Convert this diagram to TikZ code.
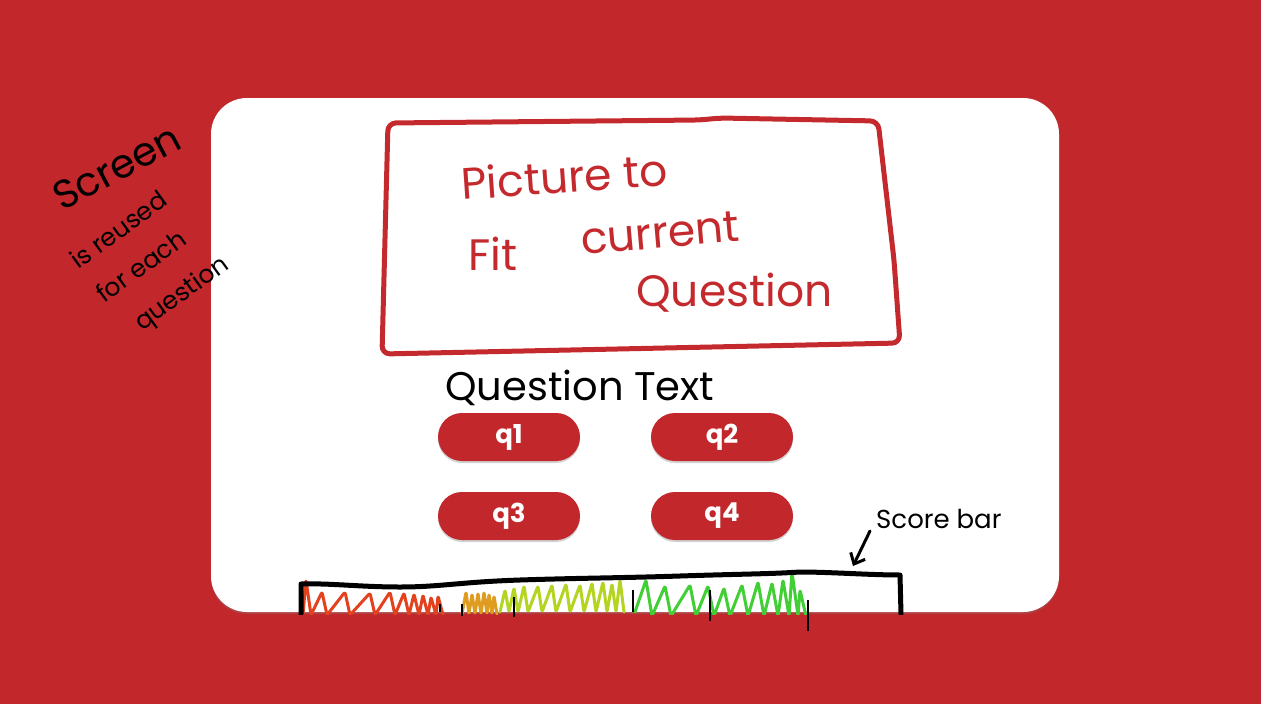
\documentclass[tikz,border=0pt]{standalone}
\usepackage{fontspec}
\setmainfont{Poppins}
\usetikzlibrary{arrows.meta,positioning,shadows}
\definecolor{bgred}{HTML}{C1272B}
\definecolor{inkred}{HTML}{C42A2D}
\definecolor{scrred}{HTML}{E2421E}
\definecolor{scrorg}{HTML}{DE9C20}
\definecolor{scrlime}{HTML}{B4D422}
\definecolor{scrgrn}{HTML}{42CF36}
\tikzset{
  redpen/.style={draw=inkred,line width=5pt,line join=round,line cap=round},
  blackpen/.style={draw=black,line width=5pt,line join=round,line cap=round},
  scrib/.style={line width=3pt,line join=round,line cap=round,rounded corners=2pt},
  tick/.style={draw=black,line width=1.3pt},
  qbtn/.style={fill=bgred,rounded corners=24pt,minimum width=142pt,minimum height=48pt,
    text=white,font=\fontsize{26}{30}\selectfont\bfseries,
    drop shadow={shadow xshift=0pt,shadow yshift=-2pt,opacity=.35}},
  boxtxt/.style={text=inkred,font=\fontsize{44}{50}\selectfont,inner sep=0pt,anchor=base west},
  note/.style={font=\fontsize{25}{28}\selectfont,inner sep=0pt,anchor=base west,rotate=36}
}
\begin{document}
\begin{tikzpicture}[x=1pt,y=-1pt]
\fill[bgred] (0,0) rectangle (1261,704);
\useasboundingbox (0,0) rectangle (1261,704);
% card
\fill[white,rounded corners=36pt,drop shadow={shadow xshift=0pt,shadow yshift=-2pt,opacity=.3}] (211,98) rectangle (1059,612);
% picture frame
\draw[redpen,rounded corners=8pt] (388,123) -- (700,120) -- (720,118) -- (878,121) -- (894,260) -- (900,343) -- (382,354) -- cycle;
\node[boxtxt,rotate=4] (pic) at (462,200) {Picture to};
\node[boxtxt] (fit) at (468,270) {Fit};
\node[boxtxt,rotate=5] (cur) at (582,255) {current};
\node[boxtxt] (qst) at (636,306) {Question};
% question text and buttons
\node[font=\fontsize{40}{46}\selectfont,inner sep=0pt,anchor=base west] (qtext) at (445,400) {Question Text};
\node[qbtn] (q1) at (509,437) {q1};
\node[qbtn] (q2) at (722,437) {q2};
\node[qbtn] (q3) at (509,516) {q3};
\node[qbtn] (q4) at (722,516) {q4};
% score bar
\begin{scope}
\clip (211,98) rectangle (1059,614);
\draw[scrib,scrred] (303,614) \foreach \x/\y in {306/580,322/592,345/592,370/593,390/592,404/593,414/594,423/595,431/597,438/596} {-- (\x,\y) -- (\x+5,615)};
\draw[scrib,scrorg] (462,614) \foreach \x/\y in {466/592,472/594,478/593,484/592,489/594,494/596} {-- (\x,\y) -- (\x+3,614)};
\draw[scrib,scrlime] (500,612) \foreach \x/\y in {505/590,514/588,524/586,538/586,552/585,566/584,580/585,592/583,603/582,612/584,620/580} {-- (\x,\y) -- (\x+4,612)};
\draw[scrib,scrgrn] (635,612) \foreach \x/\y in {646/580,665/586,690/585,708/586,724/588,742/585,758/582,772/583,783/580,792/572,800/590} {-- (\x,\y) -- (\x+6,616)};
\draw[blackpen] (301,614) -- (301,584) .. controls (330,583) and (360,587) .. (400,587) .. controls (440,587) and (460,582) .. (520,580) .. controls (580,578) and (620,578) .. (680,576) .. controls (740,574) and (770,574) .. (800,572) .. controls (830,572) and (870,575) .. (900,575) -- (901,614);
\end{scope}
\foreach \x/\a/\b in {440/604/612,462/604/616,514/597/617,633/590/612,710/590/621,808/600/631} {\draw[tick] (\x,\a) -- (\x,\b);}
\node[font=\fontsize{26}{30}\selectfont,inner sep=0pt,anchor=base west] (score) at (876,528) {Score bar};
\coordinate (arrS) at (870,531);
\coordinate (arrE) at (853,566);
\draw[black,line width=3pt,line cap=round,-{Straight Barb[length=9pt,width=16pt]}] (arrS) -- (arrE);
% side note
\node[note,font=\fontsize{40}{44}\selectfont,rotate=-8] (scr) at (62,212) {Screen};
\node[note] (reu) at (78,270) {is reused};
\node[note] (each) at (104,304) {for each};
\node[note] (ques) at (142,332) {question};
\end{tikzpicture}
\end{document}
